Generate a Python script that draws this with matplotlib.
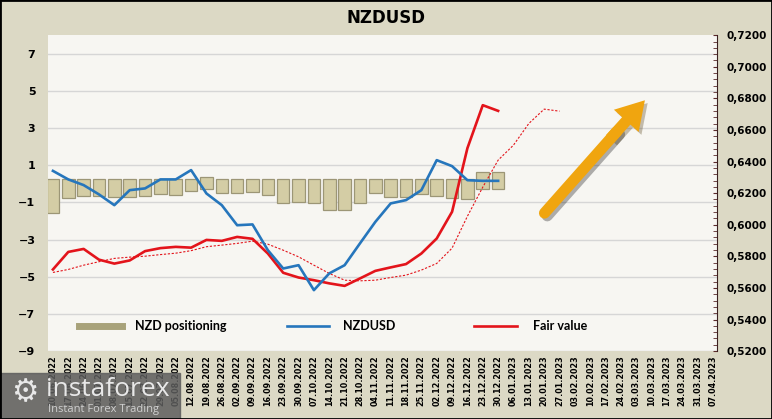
import numpy as np
import matplotlib.pyplot as plt
import matplotlib.patheffects as pe
from matplotlib.lines import Line2D
from matplotlib.patches import Rectangle, FancyArrowPatch
from matplotlib.ticker import FuncFormatter, MultipleLocator
from matplotlib.transforms import ScaledTranslation

# weekly dates on the category axis
dates = ['10.06.2022', '17.06.2022', '24.06.2022', '01.07.2022', '08.07.2022',
         '15.07.2022', '22.07.2022', '29.07.2022', '05.08.2022', '12.08.2022',
         '19.08.2022', '26.08.2022', '02.09.2022', '09.09.2022', '16.09.2022',
         '23.09.2022', '30.09.2022', '07.10.2022', '14.10.2022', '21.10.2022',
         '28.10.2022', '04.11.2022', '11.11.2022', '18.11.2022', '25.11.2022',
         '02.12.2022', '09.12.2022', '16.12.2022', '23.12.2022', '30.12.2022',
         '06.01.2023', '13.01.2023', '20.01.2023', '27.01.2023', '03.02.2023',
         '10.02.2023', '17.02.2023', '24.02.2023', '03.03.2023', '10.03.2023',
         '17.03.2023', '24.03.2023', '31.03.2023', '07.04.2023']

# NZD net positioning (left axis)
positioning = [-1.31, -0.50, -0.36, -0.38, -0.42, -0.45, -0.38, -0.28, -0.32, -0.09,
               0.09, -0.20, -0.20, -0.18, -0.32, -0.74, -0.68, -0.77, -1.13, -1.13,
               -0.77, -0.22, -0.41, -0.41, -0.27, -0.38, -0.48, -0.54, 0.39, 0.39]

# NZDUSD spot (right axis)
nzdusd = [0.6341, 0.6287, 0.6251, 0.6192, 0.6124, 0.6219, 0.6230, 0.6287, 0.6287, 0.6346,
          0.6198, 0.6124, 0.5997, 0.6002, 0.5839, 0.5723, 0.5744, 0.5586, 0.5692, 0.5744,
          0.5882, 0.6018, 0.6135, 0.6156, 0.6219, 0.6409, 0.6371, 0.6282, 0.6278, 0.6278]

# fair value (right axis)
fair_value = [0.5717, 0.5828, 0.5847, 0.5779, 0.5754, 0.5774, 0.5833, 0.5852, 0.5860, 0.5855,
              0.5904, 0.5898, 0.5923, 0.5911, 0.5818, 0.5696, 0.5666, 0.5649, 0.5629, 0.5613,
              0.5660, 0.5708, 0.5730, 0.5751, 0.5818, 0.5913, 0.6082, 0.6485, 0.6757, 0.6721]

# fair value trend, dotted (right axis)
fair_trend = [0.5698, 0.5717, 0.5744, 0.5766, 0.5787, 0.5795, 0.5801, 0.5811, 0.5820, 0.5836,
              0.5861, 0.5871, 0.5882, 0.5896, 0.5877, 0.5839, 0.5797, 0.5744, 0.5692, 0.5649,
              0.5645, 0.5649, 0.5666, 0.5681, 0.5713, 0.5755, 0.5852, 0.6054, 0.6238, 0.6409,
              0.6504, 0.6641, 0.6732, 0.6719]

fig = plt.figure(figsize=(7.72, 4.19), dpi=100, facecolor='#DCD9C5')
ax = fig.add_axes([0.062, 0.162, 0.867, 0.754])
ax.set_facecolor('#F7F6F2')

x = np.arange(len(dates))
ax.set_xlim(-0.33, 43.27)
ax.set_ylim(-9, 8)
ax.set_yticks(range(-9, 8, 2))
ax.grid(axis='y', color='#D6D6D6', lw=1)
ax.set_axisbelow(True)
for s in ax.spines.values():
    s.set_visible(False)

# bars with a bevel-like rim around them
v = np.array(positioning)
pad = 0.27
bot = np.where(v < 0, pad, -pad)
ax.bar(np.arange(len(v)), v - 2 * bot, bottom=bot, width=0.82,
       color='#D4CDA5', edgecolor='#9C9676', linewidth=0.9, zorder=2)

ax.set_xticks(x)
ax.set_xticklabels(dates, rotation=90, fontsize=5.8, fontweight='bold')
for lab in ax.get_xticklabels():
    lab.set_transform(lab.get_transform() + ScaledTranslation(-0.03, 0, fig.dpi_scale_trans))
ax.tick_params(axis='both', length=0)
ax.tick_params(axis='x', pad=3)
ax.tick_params(axis='y', pad=9, labelsize=8)
for lab in ax.get_yticklabels():
    lab.set_fontweight('bold')

ax2 = ax.twinx()
ax2.set_ylim(0.52, 0.72)
ax2.yaxis.set_major_locator(MultipleLocator(0.02))
ax2.yaxis.set_minor_locator(MultipleLocator(0.004))
ax2.yaxis.set_major_formatter(FuncFormatter(lambda val, p: f'{val:.4f}'.replace('.', ',')))
for side in ['top', 'left', 'bottom']:
    ax2.spines[side].set_visible(False)
ax2.spines['right'].set_color('#3A2020')
ax2.tick_params(axis='y', which='both', direction='in', color='#5A2A2A', length=3, pad=7, labelsize=7.5)
for lab in ax2.get_yticklabels():
    lab.set_fontweight('bold')

ax2.plot(np.arange(len(fair_trend)), fair_trend, color='#E3141B', lw=0.8, ls=(0, (2, 1.5)))
ax2.plot(np.arange(len(fair_value)), fair_value, color='#E3141B', lw=1.9)
ax2.plot(np.arange(len(nzdusd)), nzdusd, color='#2676BC', lw=1.9)

# big orange arrow with round tail; shadows drawn first, then the arrow itself
shaft_x, shaft_y = [0.742, 0.85], [0.437, 0.695]
arrow_style = 'simple,head_length=1.0,head_width=1.2,tail_width=0.4'
for z, effects in [(5, [pe.SimpleLineShadow(offset=(2, -2), alpha=0.3)]), (6, [pe.Normal()])]:
    ax2.plot(shaft_x, shaft_y, transform=ax.transAxes, color='#F0A50F', lw=8,
             solid_capstyle='round', path_effects=effects, zorder=z)
for z, effects in [(5, [pe.SimplePatchShadow(offset=(2, -2), alpha=0.3)]), (6, [pe.Normal()])]:
    arr = FancyArrowPatch((0.84, 0.672), (0.892, 0.794), transform=ax.transAxes,
                          arrowstyle=arrow_style, mutation_scale=20, color='#F0A50F', lw=0,
                          shrinkA=0, shrinkB=0, zorder=z)
    arr.set_path_effects(effects)
    ax2.add_patch(arr)

prop = {'family': 'Lato', 'weight': 'bold', 'size': 9}
leg1 = ax2.legend([Line2D([], [], color='#A8A27A', lw=5), Line2D([], [], color='#2676BC', lw=1.9)],
                  ['NZD positioning', 'NZDUSD'], ncol=2, loc='lower left',
                  bbox_to_anchor=(0.03, 0.025), frameon=False, handlelength=3.4,
                  handletextpad=1.1, columnspacing=4.8, prop=prop)
ax2.add_artist(leg1)
ax2.legend([Line2D([], [], color='#E3141B', lw=1.9)], ['Fair value'], loc='lower left',
           bbox_to_anchor=(0.62, 0.025), frameon=False, handlelength=3.4,
           handletextpad=1.3, prop=prop)

fig.text(0.5, 1 - 18 / 419, 'NZDUSD', ha='center', va='center', fontsize=12, fontweight='bold')

# watermark
fig.patches.append(Rectangle((0, 0), 180 / 772, 46 / 419, transform=fig.transFigure,
                             color='#5E5E5E', alpha=0.85, zorder=5))
fig.text(0.015, 0.062, '\u2699', fontsize=22, color='#E8E8E8', va='center', zorder=6)
fig.text(0.06, 0.07, 'instaforex', fontsize=19, color='#E8E8E8', va='center',
         family='Open Sans', zorder=6)
fig.text(0.062, 0.022, 'Instant Forex Trading', fontsize=8, color='#D0D0D0', va='center',
         family='Open Sans', zorder=6)

fig.patches.append(Rectangle((0, 0), 1, 1, transform=fig.transFigure, fill=False,
                             ec='black', lw=2, zorder=7))

fig.savefig('out.png', dpi=100, facecolor=fig.get_facecolor())
